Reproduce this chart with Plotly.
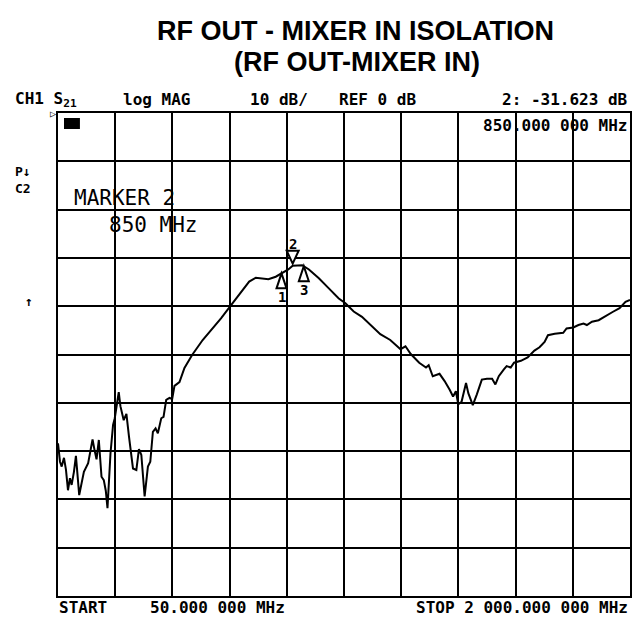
import numpy as np
import plotly.graph_objects as go

# ---------------- data ----------------
FREQ_MHZ = [50, 56.8, 62.6, 70.4, 77.2, 84.0, 90.7, 96.5, 104.3, 111.1,
            122.3, 138.3, 152.8, 167.8, 174.6, 181.4, 189.2, 198.3, 206.1, 212.9,
            218.7, 228.9, 237.7, 243.5, 257.1, 262.8, 274.0, 283.2, 292.0, 305.6,
            317.1, 326.0, 334.1, 345.3, 356.5, 364.6, 373.5, 382.6, 390.4, 402.0,
            409.8, 418.9, 430.2, 439.3, 447.1, 464.1, 481.1, 507.2, 543.2, 577.2,
            605.6, 636.2, 667.8, 701.7, 724.4, 744.8, 767.2, 792.3, 814.7, 835.1,
            850.0, 882.6, 905.4, 939.3, 973.3, 1007.2, 1029.9, 1058.1, 1086.3, 1120.2,
            1148.7, 1182.7, 1217.6, 1234.6, 1252.6, 1281.4, 1304.5, 1313.7, 1327.6, 1350.7,
            1368.0, 1385.3, 1396.8, 1406.4, 1414.5, 1425.7, 1441.0, 1448.8, 1464.1, 1477.6,
            1494.9, 1512.3, 1529.9, 1541.1, 1552.7, 1570.0, 1579.5, 1593.4, 1604.6, 1628.0,
            1651.1, 1674.2, 1691.5, 1708.8, 1720.3, 1743.4, 1772.3, 1783.8, 1806.9, 1824.2,
            1841.5, 1853.0, 1870.3, 1893.1, 1916.8, 1940.6, 1964.4, 1984.7, 2000.0]
S21_DB = [-68.4, -72.2, -73.2, -71.4, -73.9, -78.1, -75.6, -77.0, -74.3, -71.0,
          -79.1, -74.3, -72.5, -67.6, -69.8, -71.7, -67.7, -75.3, -76.0, -78.2,
          -81.8, -70.5, -64.6, -63.2, -57.8, -60.7, -63.6, -62.3, -67.0, -73.6,
          -73.9, -69.6, -70.8, -79.4, -73.2, -72.2, -66.0, -65.3, -66.3, -63.2,
          -62.9, -59.4, -59.0, -59.2, -56.5, -55.7, -52.8, -50.1, -47.0, -44.6,
          -42.5, -40.1, -37.7, -34.9, -34.1, -34.2, -34.4, -33.9, -33.1, -32.4,
          -31.6, -31.5, -32.4, -34.2, -36.3, -38.4, -39.4, -41.1, -42.2, -44.2,
          -45.8, -47.0, -48.9, -48.3, -49.9, -51.7, -52.7, -52.2, -54.5, -54.0,
          -55.5, -57.3, -58.7, -57.6, -60.3, -59.8, -55.9, -58.0, -60.5, -58.3,
          -55.2, -55.0, -55.0, -56.2, -54.5, -53.1, -52.4, -52.7, -51.7, -51.3,
          -50.6, -49.2, -48.5, -47.4, -46.0, -45.7, -45.5, -44.6, -44.4, -43.9,
          -43.6, -43.9, -43.2, -42.9, -42.0, -41.2, -40.4, -39.1, -38.7]

MARKER_FREQS = [812, 850, 888]
MARKER_LABELS = ["1", "2", "3"]
MARKER_POINTS_DOWN = [False, True, False]

START_MHZ, STOP_MHZ = 50, 2000
REF_DB, DB_PER_DIV = 0, 10

TITLE_LINES = ["RF OUT - MIXER IN ISOLATION", "(RF OUT-MIXER IN)"]

# ---------------- figure ----------------
OFF = 8                      # page body margin added by the html page
W, H = 641 - OFF, 618 - OFF  # figure size
# plot area in page pixels: x 58..632, y 113..596
PL, PR, PT, PB = 58, 632, 113, 596
ML, MT = PL - OFF, PT - OFF
MR = W - (PR - OFF)
MB = H - (PB - OFF)
PW, PH = PR - PL, PB - PT

fig = go.Figure()
fig.add_trace(go.Scatter(x=FREQ_MHZ, y=S21_DB, mode="lines",
                         line=dict(color="black", width=2), hoverinfo="x+y"))

axis_common = dict(showgrid=True, gridcolor="black", gridwidth=2,
                   showticklabels=False, ticks="", zeroline=False,
                   showline=True, linecolor="black", linewidth=2, mirror=True,
                   fixedrange=True)
fig.update_xaxes(range=[START_MHZ, STOP_MHZ], tick0=START_MHZ,
                 dtick=(STOP_MHZ - START_MHZ) / 10, **axis_common)
fig.update_yaxes(range=[REF_DB - 10 * DB_PER_DIV, REF_DB], tick0=REF_DB,
                 dtick=DB_PER_DIV, **axis_common)

MONO = "DejaVu Sans Mono"


def px(xp):
    # page pixel -> paper fraction
    return (xp - PL) / PW


def py(yp):
    return (PB - yp) / PH


annos = []


def txt(text, xp, yp, size=16, xanchor="left", bold=True, family=MONO):
    annos.append(dict(text=text, x=px(xp), y=py(yp), xref="paper", yref="paper",
                      showarrow=False, xanchor=xanchor, yanchor="middle",
                      font=dict(family=family, size=size, color="black",
                                weight="bold" if bold else "normal")))


# title
txt(TITLE_LINES[0], 357, 31, size=27, xanchor="center", family="Liberation Sans, Arial")
txt(TITLE_LINES[1], 358, 62, size=27, xanchor="center", family="Liberation Sans, Arial")

# header line
txt("CH1 S<sub>21</sub>", 13, 100)
txt("log MAG", 157, 100, xanchor="center")
txt("10 dB/", 280, 100, xanchor="center")
txt("REF 0 dB", 379, 100, xanchor="center")
txt("2: -31.623 dB", 632, 100, xanchor="right")
txt("850.000 000 MHz", 632, 126, xanchor="right")

# left side status
txt("P↓", 13, 171, size=13)
txt("C2", 13, 188, size=13)
txt("↑", 29, 301, size=13, xanchor="center")
txt("▷", 53, 113, size=10, xanchor="center", bold=False)

# marker readout
txt("MARKER 2", 125, 198, size=21, xanchor="center", bold=False)
txt("850 MHz", 154, 225, size=21, xanchor="center", bold=False)

# bottom line
txt("START", 57, 607)
txt("50.000 000 MHz", 218, 607, xanchor="center")
txt("STOP 2 000.000 000 MHz", 632, 607, xanchor="right")

# markers on trace
shapes = []
marker_vals = np.interp(MARKER_FREQS, FREQ_MHZ, S21_DB)
for f, v, lab, down in zip(MARKER_FREQS, marker_vals, MARKER_LABELS, MARKER_POINTS_DOWN):
    if down:
        path = "M0,2 L-6,15 L6,15 Z"
        shift = 22
    else:
        path = "M0,0 L-5,-15 L5,-15 Z"
        shift = -24
    shapes.append(dict(type="path", xref="x", yref="y", xsizemode="pixel",
                       ysizemode="pixel", xanchor=f, yanchor=float(v), path=path,
                       line=dict(color="black", width=2), fillcolor="white"))
    annos.append(dict(text=lab, x=f, y=float(v), xref="x", yref="y", showarrow=False,
                      yshift=shift, xanchor="center", yanchor="middle",
                      font=dict(family=MONO, size=14, color="black", weight="bold")))

# small status block at top-left of the graticule
shapes.append(dict(type="rect", xref="paper", yref="paper",
                   x0=px(64), x1=px(80), y0=py(129), y1=py(118),
                   fillcolor="black", line=dict(width=0)))

fig.update_layout(width=W, height=H, margin=dict(l=ML, r=MR, t=MT, b=MB),
                  paper_bgcolor="white", plot_bgcolor="white", showlegend=False,
                  annotations=annos, shapes=shapes)

fig.write_html("out.html")
